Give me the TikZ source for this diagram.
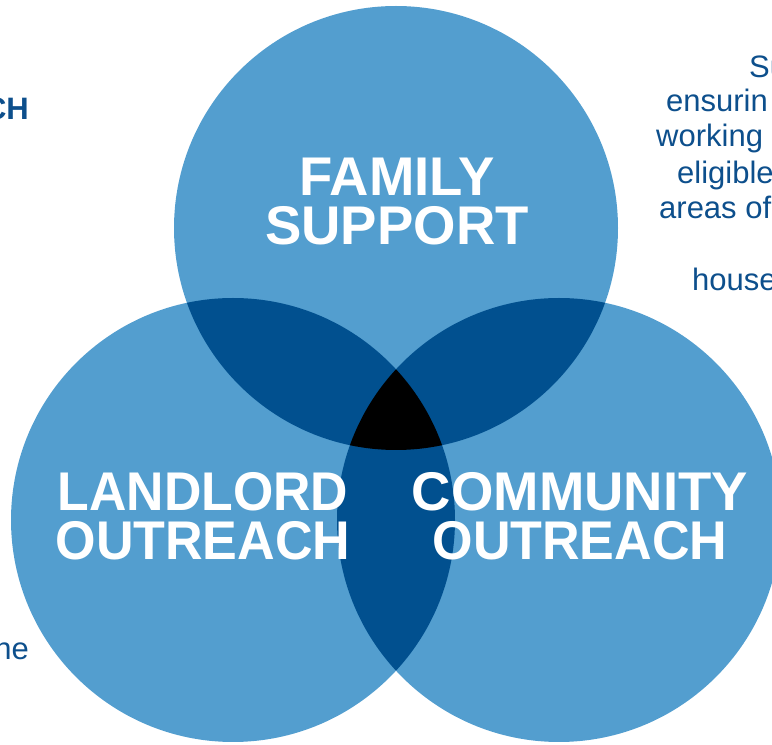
\documentclass[tikz,border=0pt]{standalone}
\usepackage{fontspec}
\setmainfont{Liberation Sans}
\definecolor{ringblue}{HTML}{539ECF}
\definecolor{overlapblue}{HTML}{01508F}
\definecolor{inkblue}{HTML}{0D4F8C}
% slightly narrowed word for the title lines
\newcommand{\narrowword}[2][0.955]{\scalebox{#1}[1]{#2}}
\begin{document}
\begin{tikzpicture}[x=1pt,y=1pt,
  ring/.style={fill=ringblue},
  pair/.style={fill=overlapblue},
  core/.style={fill=black},
  biglabel/.style={text=white, font=\bfseries\fontsize{54.5}{49}\selectfont,
    align=center, inner sep=0pt},
  sidetext/.style={text=inkblue, font=\fontsize{31}{36}\selectfont,
    inner sep=0pt, anchor=base west},
  sidebold/.style={text=inkblue, font=\bfseries\fontsize{31}{36}\selectfont,
    inner sep=0pt, anchor=base east}]
\useasboundingbox (0,0) rectangle (772,745);
\clip (0,0) rectangle (772,745);
\def\rad{222}
% circle centres
\coordinate (top) at (396,517);
\coordinate (lft) at (233,225);
\coordinate (rgt) at (559,225);
% the three rings
\fill[ring] (top) circle (\rad);
\fill[ring] (lft) circle (\rad);
\fill[ring] (rgt) circle (\rad);
% pairwise overlaps
\begin{scope}
  \clip (top) circle (\rad);
  \fill[pair] (lft) circle (\rad);
  \fill[pair] (rgt) circle (\rad);
\end{scope}
\begin{scope}
  \clip (lft) circle (\rad);
  \fill[pair] (rgt) circle (\rad);
\end{scope}
% common centre
\begin{scope}
  \clip (top) circle (\rad);
  \clip (lft) circle (\rad);
  \fill[core] (rgt) circle (\rad);
\end{scope}
% ring titles
\node[biglabel] (family) at (397,543) {FAMILY\\SUPPORT};
\node[biglabel] (landlord) at (203,228.5)
  {\narrowword[0.95]{LANDLORD}\\\narrowword{OUTREACH}};
\node[biglabel] (community) at (580,228.5)
  {COMMUNITY\\\narrowword{OUTREACH}};
% side texts
\node[sidebold] (lefthead) at (29,625) {CH};
\node[sidetext, anchor=base east] (leftline) at (29,85) {ne};
\node[sidetext] (r1) at (749,667) {Su};
\node[sidetext] (r2) at (666,633) {ensurin};
\node[sidetext] (r3) at (656,598) {working};
\node[sidetext] (r4) at (677,561) {eligible};
\node[sidetext] (r5) at (659,526) {areas of};
\node[sidetext] (r6) at (692,454) {house};
\end{tikzpicture}
\end{document}
